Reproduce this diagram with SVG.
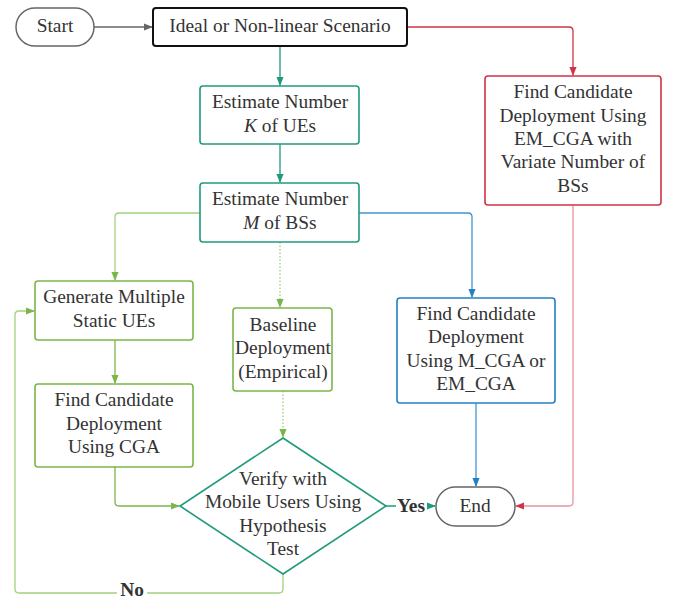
<svg xmlns="http://www.w3.org/2000/svg" width="677" height="599" viewBox="0 0 677 599">
<defs>
<style>
text{font-size:19.4px;fill:#333;text-anchor:middle}
.b{font-weight:bold}
.i{font-style:italic}
.box{fill:#fff;stroke-width:1.6}
.teal{stroke:#1f9a7c}
.green{stroke:#7ab648}
.blue{stroke:#2181c2}
.red{stroke:#d03446}
.c{fill:none;stroke-width:1.3}
</style>
<marker id="aG" viewBox="0 0 10 10" refX="9" refY="5" markerWidth="7" markerHeight="7" orient="auto-start-reverse"><path d="M0,1 L10,5 L0,9 z" fill="#7ab648"/></marker>
<marker id="aT" viewBox="0 0 10 10" refX="9" refY="5" markerWidth="7" markerHeight="7" orient="auto-start-reverse"><path d="M0,1 L10,5 L0,9 z" fill="#1f9a7c"/></marker>
<marker id="aB" viewBox="0 0 10 10" refX="9" refY="5" markerWidth="7" markerHeight="7" orient="auto-start-reverse"><path d="M0,1 L10,5 L0,9 z" fill="#2181c2"/></marker>
<marker id="aR" viewBox="0 0 10 10" refX="9" refY="5" markerWidth="7" markerHeight="7" orient="auto-start-reverse"><path d="M0,1 L10,5 L0,9 z" fill="#d03446"/></marker>
<marker id="aK" viewBox="0 0 10 10" refX="9" refY="5" markerWidth="7" markerHeight="7" orient="auto-start-reverse"><path d="M0,1 L10,5 L0,9 z" fill="#666"/></marker>
</defs>
<rect width="677" height="599" fill="#fff"/>
<g font-family="Liberation Serif, serif">
<g id="connectors">
<path class="c" d="M94,27 H152" stroke="#666" marker-end="url(#aK)"/>
<path class="c" d="M407,27 H569 Q573,27 573,31 V75" stroke="#d03446" marker-end="url(#aR)"/>
<path class="c" d="M573,205 V502 Q573,506 569,506 H516" stroke="#e8939c" marker-end="url(#aR)"/>
<path class="c" d="M280,47 V85" stroke="#1f9a7c" marker-end="url(#aT)"/>
<path class="c" d="M280,144 V182" stroke="#1f9a7c" marker-end="url(#aT)"/>
<path class="c" d="M200,213 H119 Q115,213 115,217 V280" stroke="#a3d17c" marker-end="url(#aG)"/>
<path class="c" d="M280,242 V307" stroke="#9fce77" stroke-dasharray="1.5,2" marker-end="url(#aG)"/>
<path class="c" d="M283,391 V437" stroke="#9fce77" stroke-dasharray="1.5,2" marker-end="url(#aG)"/>
<path class="c" d="M359,213 H468 Q472,213 472,217 V297" stroke="#3f95cf" marker-end="url(#aB)"/>
<path class="c" d="M476,403 V486" stroke="#3f95cf" marker-end="url(#aB)"/>
<path class="c" d="M115,340 V383" stroke="#7ab648" marker-end="url(#aG)"/>
<path class="c" d="M115,467 V502 Q115,506 119,506 H179" stroke="#7ab648" marker-end="url(#aG)"/>
<path class="c" d="M386,506 H396 M427,506 H435" stroke="#1f9a7c" marker-end="url(#aT)"/>
<path class="c" d="M283,574 V589 Q283,593 279,593 H147 M117,593 H19 Q15,593 15,589 V315 Q15,311 19,311 H34" stroke="#a3d17c" marker-end="url(#aG)"/>
<text class="b" x="411" y="512">Yes</text>
<text class="b" x="132" y="596">No</text>
</g>
<g id="start">
<rect x="16" y="8" width="78" height="38" rx="19" fill="#fff" stroke="#666" stroke-width="1.5"/>
<text x="55" y="32">Start</text>
</g>
<g id="scenario">
<rect x="153" y="8" width="254" height="38" rx="3" fill="#fff" stroke="#111" stroke-width="2"/>
<text x="280" y="32">Ideal or Non-linear Scenario</text>
</g>
<g id="estK">
<rect class="box teal" x="200" y="86" width="159" height="58" rx="3"/>
<text x="280" y="108">Estimate Number</text>
<text x="280" y="132"><tspan class="i">K</tspan> of UEs</text>
</g>
<g id="estM">
<rect class="box teal" x="200" y="183" width="159" height="59" rx="3"/>
<text x="280" y="205">Estimate Number</text>
<text x="280" y="229"><tspan class="i">M</tspan> of BSs</text>
</g>
<g id="emcga">
<rect class="box red" x="485" y="76" width="176" height="129" rx="3"/>
<text x="573" y="98">Find Candidate</text>
<text x="573" y="122">Deployment Using</text>
<text x="573" y="145">EM_CGA with</text>
<text x="573" y="168">Variate Number of</text>
<text x="573" y="192">BSs</text>
</g>
<g id="generate">
<rect class="box green" x="35" y="281" width="158" height="59" rx="3"/>
<text x="114" y="303">Generate Multiple</text>
<text x="114" y="327">Static UEs</text>
</g>
<g id="baseline">
<rect class="box green" x="233" y="308" width="99" height="83" rx="3"/>
<text x="283" y="331">Baseline</text>
<text x="283" y="354">Deployment</text>
<text x="283" y="378">(Empirical)</text>
</g>
<g id="mcga">
<rect class="box blue" x="397" y="298" width="158" height="105" rx="3"/>
<text x="476" y="320">Find Candidate</text>
<text x="476" y="343">Deployment</text>
<text x="476" y="367">Using M_CGA or</text>
<text x="476" y="390">EM_CGA</text>
</g>
<g id="cga">
<rect class="box green" x="35" y="384" width="158" height="83" rx="3"/>
<text x="114" y="406">Find Candidate</text>
<text x="114" y="430">Deployment</text>
<text x="114" y="453">Using CGA</text>
</g>
<g id="verify">
<path d="M283,438 L386,506 L283,574 L180,506 Z" fill="#fff" stroke="#1f9a7c" stroke-width="1.6"/>
<text x="283" y="485">Verify with</text>
<text x="283" y="508">Mobile Users Using</text>
<text x="283" y="532">Hypothesis</text>
<text x="283" y="555">Test</text>
</g>
<g id="end">
<rect x="436" y="487" width="79" height="39" rx="19.5" fill="#fff" stroke="#666" stroke-width="1.5"/>
<text x="475" y="512">End</text>
</g>
</g>
</svg>
